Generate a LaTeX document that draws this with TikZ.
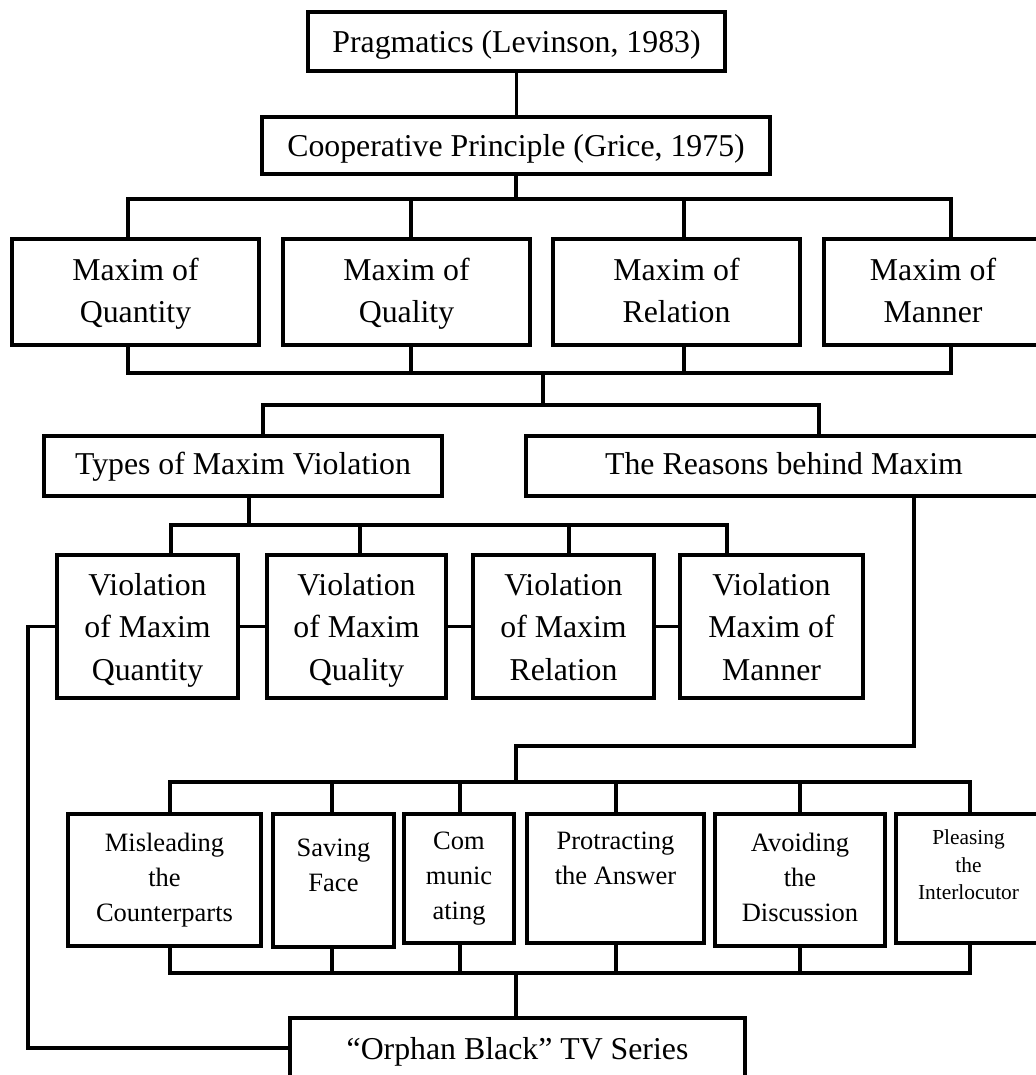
\documentclass[tikz,border=0pt]{standalone}
\usepackage{fontspec}
\setmainfont{Liberation Serif}
\def\bigtext{\fontsize{15.9}{21.25}\selectfont}
\def\midtext{\fontsize{13.25}{17.5}\selectfont}
\def\smalltext{\fontsize{10.7}{13.75}\selectfont}

\begin{document}
\begin{tikzpicture}
    [x=0.5pt,y=-0.5pt,
     box/.style={draw,line width=2pt,inner sep=0pt,align=center,font=\bigtext,text depth=3.5pt},
     maxim/.style={box,text height=34.25pt,minimum width=123.5pt,minimum height=52.75pt},
     violation/.style={box,text height=57pt,minimum height=71.5pt},
     reason/.style={draw,line width=2pt,inner sep=0pt,align=center,font=\midtext,text depth=2.9pt},
     link/.style={line width=1.6pt,line cap=rect}]
    \useasboundingbox (0,0) rectangle (1036,1075);

    % top of the tree
    \node[box,text height=15pt,minimum width=208.5pt,minimum height=29.5pt] (prag) at (516.5,41.5) {Pragmatics (Levinson, 1983)};
    \node[box,text height=15pt,minimum width=254pt,minimum height=28.5pt] (coop) at (516,145.5) {Cooperative Principle (Grice, 1975)};

    % the four maxims
    \node[maxim] (mqty) at (135.5,291.75) {Maxim of\\Quantity};
    \node[maxim] (mqly) at (406.5,291.75) {Maxim of\\Quality};
    \node[maxim] (mrel) at (676.5,291.75) {Maxim of\\Relation};
    \node[maxim,minimum width=109pt] (mman) at (933,291.75) {Maxim of\\Manner};

    \node[box,text height=12pt,minimum width=199pt,minimum height=30pt] (types) at (243,466) {Types of Maxim Violation};
    \node[box,text height=12pt,minimum width=258pt,minimum height=30pt] (reasons) at (784,466) {The Reasons behind Maxim};

    % violations
    \node[violation,minimum width=90.5pt] (vqty) at (147.5,626.5) {Violation\\of Maxim\\Quantity};
    \node[violation,minimum width=89.5pt] (vqly) at (356.5,626.5) {Violation\\of Maxim\\Quality};
    \node[violation,minimum width=90.5pt] (vrel) at (563.5,626.5) {Violation\\of Maxim\\Relation};
    \node[violation,minimum width=91.5pt] (vman) at (771.5,626.5) {Violation\\Maxim of\\Manner};

    % reasons
    \node[reason,minimum width=96.5pt,minimum height=66pt] (mislead) at (164.5,880) {Misleading\\the\\Counterparts};
    \node[reason,text depth=15pt,minimum width=60.5pt,minimum height=66.5pt] (face) at (333.5,880.5) {Saving\\Face};
    \node[reason,minimum width=55pt,minimum height=64.5pt] (comm) at (459,878.5) {Com\\munic\\ating};
    \node[reason,minimum width=88.5pt,minimum height=64.5pt] (protract) at (615.5,878.5) {Protracting\\the Answer\\\mbox{}};
    \node[reason,minimum width=85pt,minimum height=66pt] (avoid) at (800,880) {Avoiding\\the\\Discussion};
    \node[reason,font=\smalltext,text depth=0pt,minimum width=72.5pt,minimum height=64.5pt] (please) at (968.5,878.5) {Pleasing\\the\\Interlocutor\\\mbox{}};

    \node[box,text height=12pt,minimum width=227.5pt,minimum height=33pt] (series) at (517.5,1051) {“Orphan Black” TV Series};

    % connectors
    \draw[link] (prag) -- (prag |- coop.north);
    \draw[link] (coop) -- (coop |- 0,199);
    \foreach \x/\n in {128/mqty,411/mqly,684/mrel,951/mman}{
        \coordinate (up-\n) at (\x,199);
        \coordinate (dn-\n) at (\x,373);
        \draw[link] (up-\n) -- (up-\n |- \n.north);
        \draw[link] (dn-\n |- \n.south) -- (dn-\n);
    }
    \draw[link] (up-mqty) -- (up-mman);
    \draw[link] (dn-mqty) -- (dn-mman);

    \coordinate (split) at (543,373);
    \coordinate (fork-l) at (263,405);
    \coordinate (fork-r) at (819,405);
    \draw[link] (split) -- (split |- fork-l);
    \draw[link] (types.north -| fork-l) |- (fork-r) -- (reasons.north -| fork-r);

    \coordinate (tdrop) at (249,525);
    \draw[link] (types.south -| tdrop) -- (tdrop);
    \foreach \x/\n in {171/vqty,360/vqly,569/vrel,727/vman}{
        \coordinate (up-\n) at (\x,525);
        \draw[link] (up-\n) -- (up-\n |- \n.north);
    }
    \draw[link] (up-vqty) -- (up-vman);
    \draw[link] (vqty) -- (vqly);
    \draw[link] (vqly) -- (vrel);
    \draw[link] (vrel) -- (vman);

    % long line down the left side
    \coordinate (corner) at (28,1048);
    \draw[link] (vqty.west) -| (corner) -- (corner -| series.west);

    \coordinate (rdrop) at (914,746);
    \coordinate (rmid) at (516,782);
    \draw[link] (reasons.south -| rdrop) -- (rdrop) -| (rmid);
    \foreach \x/\n in {170/mislead,332/face,460/comm,616/protract,800/avoid,970/please}{
        \coordinate (up-\n) at (\x,782);
        \coordinate (dn-\n) at (\x,973);
        \draw[link] (up-\n) -- (up-\n |- \n.north);
        \draw[link] (dn-\n |- \n.south) -- (dn-\n);
    }
    \draw[link] (up-mislead) -- (up-please);
    \draw[link] (dn-mislead) -- (dn-please);
    \coordinate (smid) at (516,973);
    \draw[link] (smid) -- (smid |- series.north);
\end{tikzpicture}
\end{document}
